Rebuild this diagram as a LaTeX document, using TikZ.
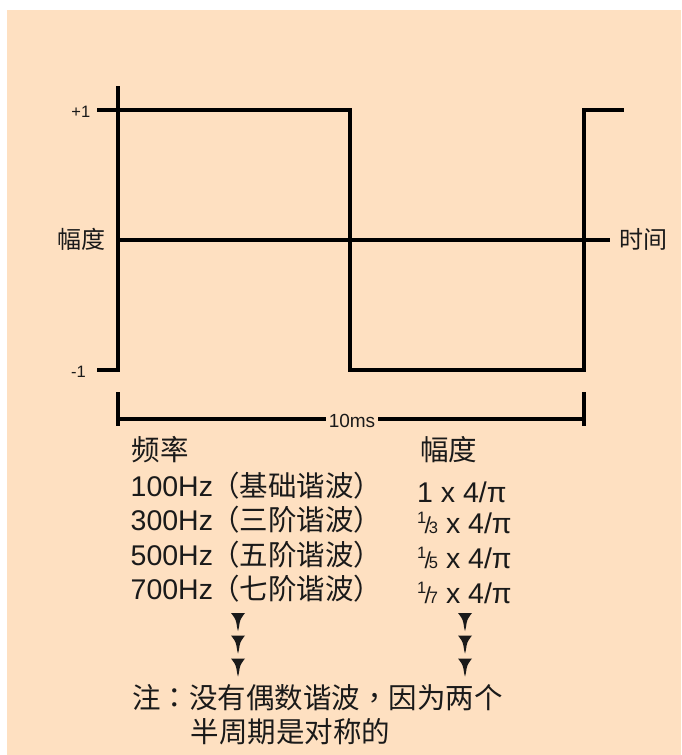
\documentclass[tikz,border=0pt]{standalone}
\usepackage{fontspec}
\setmainfont{Liberation Sans}
\newfontfamily\cjk{Noto Sans CJK SC}
\newfontfamily\cjktc{Noto Sans CJK TC}
\definecolor{bg}{HTML}{FEE0C1}
\definecolor{txt}{HTML}{1A1A1A}
\newcommand\myfr[1]{{\fontsize{16.5}{16}\selectfont\raisebox{10pt}{1}}\kern-1.8pt{\fontsize{23}{22}\selectfont/}\kern-2pt{\fontsize{16.5}{16}\selectfont #1}}
\begin{document}
\begin{tikzpicture}[x=1pt,y=-1pt,
  wave/.style={line width=3.2pt, line join=miter, line cap=butt},
  lbl/.style={inner sep=0pt, text=txt, font=\fontsize{28.5}{30}\selectfont, anchor=base west},
  small/.style={inner sep=0pt, text=txt, font=\fontsize{16.5}{18}\selectfont, anchor=base east},
  axl/.style={inner sep=0pt, text=txt, font=\cjk\fontsize{24}{26}\selectfont, anchor=base west},
  darr/.pic={\fill[txt] (-7,0) -- (7,0) .. controls (5,2.5) and (2.2,6) .. (1.6,10) -- (0.9,14.5) -- (0,18) -- (-0.9,14.5) -- (-1.6,10) .. controls (-2.2,6) and (-5,2.5) .. (-7,0);}
]
\useasboundingbox (0,0) rectangle (681,755);
\fill[bg] (7,10) rectangle (681,755);

% axes and wave
\coordinate (axT) at (118,86);
\coordinate (axB) at (118,370);
\coordinate (tm1) at (97,370);
\coordinate (t1) at (97,110);
\coordinate (w0) at (118,110);
\coordinate (w1) at (350,110);
\coordinate (w2) at (350,370);
\coordinate (w3) at (584,370);
\coordinate (w4) at (584,110);
\coordinate (w5) at (624,110);
\coordinate (z0) at (118,240);
\coordinate (z1) at (610,240);
\draw[wave] (axT) -- (axB) -- (tm1);
\draw[wave] (t1) -- (w0) -- (w1) -- (w2) -- (w3) -- (w4) -- (w5);
\draw[wave] (z0) -- (z1);

\node[small] (p1) at (90.5,117) {+1};
\node[small] (m1) at (86,377) {-1};
\node[axl] (amp) at (57,248) {幅度};
\node[axl] (time) at (619,248) {时间};

% dimension bar
\coordinate (dLt) at (118,392);
\coordinate (dLb) at (118,426);
\coordinate (dRt) at (584,392);
\coordinate (dRb) at (584,426);
\coordinate (dL) at (118,419);
\coordinate (dR) at (584,419);
\node[inner xsep=3pt, inner ysep=0pt, text=txt, font=\fontsize{19}{20}\selectfont] (ms) at (352,421) {10ms};
\draw[wave] (dLt) -- (dLb);
\draw[wave] (dRt) -- (dRb);
\draw[wave] (dL) -- (dL -| ms.west);
\draw[wave] (dR) -- (dR -| ms.east);

% table
\node[lbl] (fh) at (131.5,460) {\cjk 频率};
\node[lbl] (r1) at (130.5,496.5) {100Hz\kern-2pt{\cjk （基础谐波）}};
\node[lbl] (r2) at (130.5,530.5) {300Hz\kern-2pt{\cjk （三阶谐波）}};
\node[lbl] (r3) at (130.5,565) {500Hz\kern-2pt{\cjk （五阶谐波）}};
\node[lbl] (r4) at (130.5,599.5) {700Hz\kern-2pt{\cjk （七阶谐波）}};

\node[lbl] (ah) at (420,460) {\cjk 幅度};
\node[lbl] (a1) at (417,502) {1 x 4/π};
\node[lbl] (a2) at (417,533) {\myfr{3} x 4/π};
\node[lbl] (a3) at (417,568) {\myfr{5} x 4/π};
\node[lbl] (a4) at (417,603) {\myfr{7} x 4/π};

% arrows
\pic at (238,613) {darr};
\pic at (238,635.5) {darr};
\pic at (238,658.5) {darr};
\pic at (465,613) {darr};
\pic at (465,635.5) {darr};
\pic at (465,658.5) {darr};

% note
\node[lbl] (n1) at (132,708) {\cjk 注{\cjktc ：}没有偶数谐波{\cjktc ，}因为两个};
\node[lbl] (n2) at (190.5,742) {\cjk 半周期是对称的};
\end{tikzpicture}
\end{document}
